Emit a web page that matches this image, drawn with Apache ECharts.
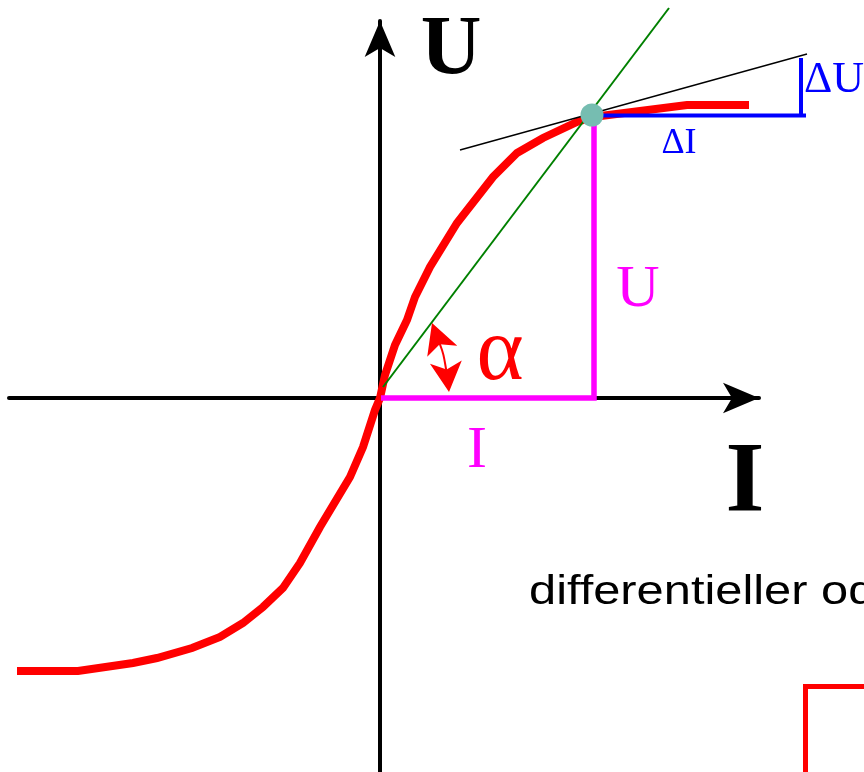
<!DOCTYPE html>
<html>
<head>
<meta charset="utf-8">
<script src="https://cdn.jsdelivr.net/npm/echarts@6/dist/echarts.min.js"></script>
<style>
  html, body { margin: 0; padding: 0; background: #ffffff; }
  #chart { width: 864px; height: 772px; }
</style>
</head>
<body>
<div id="chart"></div>
<script>
// U-I characteristic (one unit = 10 px, origin where the axes cross)
const curveIU = [
  [-36.3, -27.3], [-30.2, -27.3], [-24.7, -26.5], [-22.3, -26.0], [-18.8, -25.0],
  [-16.0, -23.9], [-13.7, -22.5], [-11.7, -20.9], [-9.7, -19.0], [-8.0, -16.5],
  [-6.0, -12.9], [-3.0, -7.9], [-1.7, -4.9], [-0.5, -1.2], [0, 0],
  [0.5, 2.3], [1.5, 5.3], [2.7, 7.8], [3.5, 10.1], [5.0, 13.1],
  [7.7, 17.5], [11.3, 22.1], [13.7, 24.5], [16.3, 26.0], [19.7, 27.6],
  [21.3, 28.1], [30.7, 29.3], [36.9, 29.3]
];

// operating point on the characteristic
const workPoint = [21.2, 28.3];

// secant through the origin (static resistance U/I)
const secantLine = [[0.3, 1.1], [28.9, 39.0]];

// tangent at the operating point (differential resistance)
const tangentLine = [[8.0, 24.8], [42.7, 34.4]];

// ΔI / ΔU step triangle
const deltaI = [[21.2, 28.25], [42.6, 28.25]];
const deltaU = [[42.1, 28.25], [42.1, 34.0]];

// U and I legs down to the axes
const legsUI = [[0.1, 0], [21.4, 0], [21.4, 27.8]];

// angle marker between secant and I axis: shaft, head tips and head angles
const angleShaft = [[5.6, 6.3], [6.2, 4.8], [6.5, 3.5], [6.75, 1.9]];
const angleHeads = [[5.2, 7.5], [6.9, 0.6]];
const angleHeadRotation = [20, 186];

// corner of the box below the text
const boxCorner = [[42.55, -38.5], [42.55, -28.85], [48.6, -28.85]];

const chart = echarts.init(document.getElementById('chart'), null, { renderer: 'canvas' });

const serif = "'Liberation Serif', 'Times New Roman', serif";

function arrowAxis(min, max, gridIndex) {
  return {
    type: 'value',
    gridIndex: gridIndex,
    min: min,
    max: max,
    axisLine: {
      show: true,
      onZero: true,
      symbol: ['none', 'arrow'],
      symbolSize: [23, 36],
      lineStyle: { color: '#000000', width: 4 }
    },
    axisTick: { show: false },
    axisLabel: { show: false },
    splitLine: { show: false }
  };
}

function plainAxis(min, max, gridIndex) {
  return { type: 'value', gridIndex: gridIndex, min: min, max: max, show: false };
}

function segment(data, color, width, z, smooth) {
  return {
    type: 'line',
    xAxisIndex: 1,
    yAxisIndex: 1,
    data: data,
    smooth: smooth || false,
    showSymbol: false,
    symbol: 'none',
    clip: false,
    silent: true,
    z: z,
    lineStyle: { color: color, width: width, cap: 'butt', join: 'miter' }
  };
}

function label(text, x, y, size, color, weight) {
  return {
    type: 'text',
    x: x,
    y: y,
    silent: true,
    z: 100,
    style: {
      text: text,
      fill: color,
      font: (weight || 'normal') + ' ' + size + 'px ' + serif,
      align: 'center',
      verticalAlign: 'middle'
    }
  };
}

chart.setOption({
  animation: false,
  backgroundColor: '#ffffff',
  grid: [
    { left: 9, right: 105, top: 21, bottom: 0 },
    { left: 0, right: 0, top: 0, bottom: 0 }
  ],
  xAxis: [arrowAxis(-37.1, 37.9, 0), plainAxis(-38.0, 48.4, 1)],
  yAxis: [arrowAxis(-37.4, 37.7, 0), plainAxis(-37.4, 39.8, 1)],
  series: [
    segment(curveIU, '#ff0000', 8, 3),
    segment(legsUI, '#ff00ff', 5.5, 4),
    segment(tangentLine, '#000000', 1.3, 5),
    segment(secantLine, '#008000', 2, 6),
    segment(deltaI, '#0000ff', 4, 7),
    segment(deltaU, '#0000ff', 4, 7),
    segment(boxCorner, '#ff0000', 5, 3),
    segment(angleShaft, '#ff0000', 2, 8, 0.5),
    {
      type: 'scatter',
      xAxisIndex: 1,
      yAxisIndex: 1,
      data: angleHeads.map(function (p, i) {
        return { value: p, symbolRotate: angleHeadRotation[i] };
      }),
      symbol: 'arrow',
      symbolSize: [24, 30],
      clip: false,
      silent: true,
      z: 8,
      itemStyle: { color: '#ff0000', opacity: 1 }
    },
    {
      type: 'scatter',
      xAxisIndex: 1,
      yAxisIndex: 1,
      data: [workPoint],
      symbol: 'circle',
      symbolSize: 23,
      clip: false,
      silent: true,
      z: 10,
      itemStyle: { color: '#76bdb1', opacity: 1 }
    }
  ],
  graphic: [
    label('U', 451, 52.5, 84, '#000000', 'bold'),
    label('I', 745, 484, 100, '#000000', 'bold'),
    label('\u0394U', 834, 80, 44, '#0000ff'),
    label('\u0394I', 679, 144, 36, '#0000ff'),
    label('U', 638, 290, 60, '#ff00ff'),
    label('I', 477, 451, 60, '#ff00ff'),
    label('\u03b1', 500, 355, 90, '#ff0000'),
    {
      type: 'text',
      x: 529,
      y: 593,
      scaleX: 1.22,
      silent: true,
      z: 100,
      style: {
        text: 'differentieller oder dynamischer Widerstand',
        fill: '#000000',
        font: "normal 40px 'Liberation Sans', Arial, sans-serif",
        align: 'left',
        verticalAlign: 'middle'
      }
    }
  ]
});
</script>
</body>
</html>
